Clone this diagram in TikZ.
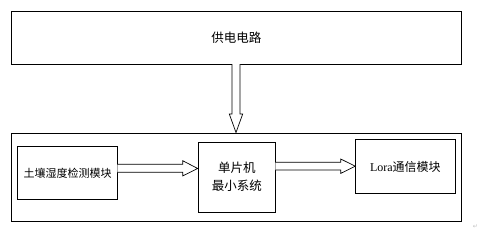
\documentclass[tikz,border=0pt]{standalone}
\usepackage{fontspec}
\setmainfont{Liberation Serif}
\newfontfamily\cjk{Noto Sans CJK SC}
\newfontfamily\symf{DejaVu Sans}
\begin{document}
\begin{tikzpicture}[x=1pt,y=-1pt,
  box/.style={draw=black,line width=0.8pt,inner sep=0pt},
  fatarrow/.style={draw=black,line width=0.7pt,fill=white,line join=miter}]
\useasboundingbox (0,0) rectangle (482,241);
% power box
\node[box,minimum width=449.7pt,minimum height=53pt,anchor=north west] (power) at (11,11) {};
\node (powert) at (power.center) {\cjk\fontsize{12.5}{14}\selectfont 供电电路};
% outer system box
\node[box,minimum width=449.7pt,minimum height=88.5pt,anchor=north west] (sys) at (11,132.5) {};
% inner boxes
\node[box,minimum width=100pt,minimum height=53.3pt,anchor=north west] (sensor) at (17.3,146) {};
\node (sensort) at (sensor.center) {\cjk\fontsize{11}{13}\selectfont 土壤湿度检测模块};
\node[box,minimum width=77.6pt,minimum height=70.3pt,anchor=north west] (mcu) at (197.7,141.7) {};
\node[align=center,font={\cjk\fontsize{12.5}{18}\selectfont}] (mcut) at ([yshift=0pt]mcu.center) {单片机\\最小系统};
\node[box,minimum width=99.4pt,minimum height=53.7pt,anchor=north west] (lora) at (355.3,139.3) {};
\node (lorat) at (lora.center) {\fontsize{12}{14}\selectfont Lora{\cjk 通信模块}};
% paragraph mark
\node[text=gray!50,inner sep=0pt] (pm) at (475.5,226.5) {\symf\fontsize{6}{7}\selectfont ↵};
% vertical hollow arrow power -> sys
\coordinate (vtip) at (236,132.5);
\draw[fatarrow] (232,64) -- (232,114) -- (229.3,114) -- (vtip) -- (242.7,114) -- (240,114) -- (240,64);
% arrow sensor -> mcu
\coordinate (a1tip) at (197.7,168.5);
\draw[fatarrow] (117.3,164.3) -- (182.7,164.3) -- (182.7,160.7) -- (a1tip) -- (182.7,175.9) -- (182.7,172.3) -- (117.3,172.3);
% arrow mcu -> lora
\coordinate (a2tip) at (355.3,166.2);
\draw[fatarrow] (275.3,162.3) -- (340.7,162.3) -- (340.7,159) -- (a2tip) -- (340.7,173.4) -- (340.7,170) -- (275.3,170);
\end{tikzpicture}
\end{document}
